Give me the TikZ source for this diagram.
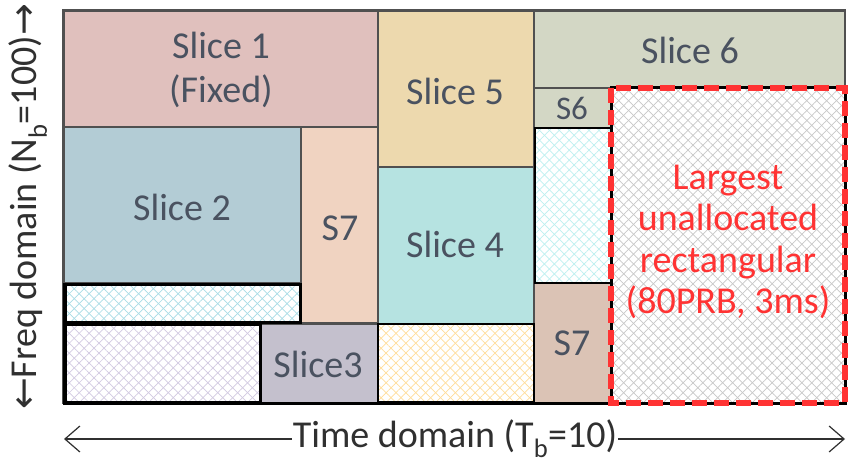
\documentclass[tikz,border=0pt]{standalone}
\usepackage{fontspec}
\setmainfont{Carlito}
\newfontfamily\arrowfont{DejaVu Sans}
\usetikzlibrary{patterns.meta,arrows.meta}
\definecolor{cS1}{HTML}{E0C0BD}
\definecolor{cS2}{HTML}{B3CCD5}
\definecolor{cS7a}{HTML}{F0D3C1}
\definecolor{cS5}{HTML}{EDD9AE}
\definecolor{cS4}{HTML}{B6E3E1}
\definecolor{cS6}{HTML}{D3D7C5}
\definecolor{cS3}{HTML}{C4C0CD}
\definecolor{cS7b}{HTML}{DBC3B5}
\definecolor{hCyan}{HTML}{A8DCE6}
\definecolor{hCyan2}{HTML}{BDF0F0}
\definecolor{hLav}{HTML}{D2CAE2}
\definecolor{hYel}{HTML}{FFDD9A}
\definecolor{hGray}{HTML}{C8C8C8}
\definecolor{edge}{HTML}{505050}
\definecolor{lbl}{HTML}{4A5260}
\definecolor{redlbl}{HTML}{FF3333}
\definecolor{axis}{HTML}{303030}
\begin{document}
\begin{tikzpicture}[x=1pt,y=-1pt,
  slicebox/.style={fill=#1, draw=edge, line width=1.5pt},
  emptyedge/.style={draw=black, line width=3pt},
  hatchA/.style={pattern={Lines[angle=45,distance=7pt,line width=0.7pt]}, pattern color=#1},
  hatchB/.style={pattern={Lines[angle=-45,distance=7pt,line width=0.7pt]}, pattern color=#1},
  lab/.style={text=lbl, font=\fontsize{38}{44}\selectfont, inner sep=0pt, align=center},
  smalllab/.style={text=lbl, font=\fontsize{33}{38}\selectfont, inner sep=0pt},
  axlab/.style={text=axis, font=\fontsize{38}{44}\selectfont, inner xsep=1pt, inner ysep=0pt},
  axarrow/.style={draw=axis, line width=1.2pt, -{Straight Barb[length=15pt,width=26pt,line width=1.2pt]}}
]
\useasboundingbox (0,0) rectangle (848,462);
\fill[white] (0,0) rectangle (848,462);

% coloured slices
\draw[slicebox=cS1]  (64,11) rectangle (378,127);
\draw[slicebox=cS5]  (378,11) rectangle (534,167);
\draw[slicebox=cS6]  (534,11) rectangle (845,88);
\draw[slicebox=cS6]  (534,88) rectangle (611,128);
\draw[slicebox=cS2]  (64,127) rectangle (301,283);
\draw[slicebox=cS7a] (301,127) rectangle (378,323);
\draw[slicebox=cS4]  (378,167) rectangle (534,324);
\draw[slicebox=cS3]  (260,324) rectangle (378,403);
\draw[slicebox=cS7b] (534,283) rectangle (611,403);

% unallocated hatched blocks
\foreach \c/\a/\b in {hCyan/{(65,284)}/{(300,322)}, hLav/{(65,324)}/{(260,402)}, hYel/{(378,324)}/{(534,402)}, hCyan2/{(535,128)}/{(611,283)}, hGray/{(611,88)}/{(845,403)}}{
  \fill[white] \a rectangle \b;
  \fill[hatchA=\c] \a rectangle \b;
  \fill[hatchB=\c] \a rectangle \b;
}
\draw[emptyedge] (65,284) rectangle (300,322);
\draw[emptyedge] (65,324) rectangle (260,402);
\draw[draw=black, line width=2pt] (378,324) rectangle (534,402);
\draw[draw=black, line width=2.5pt] (535,128) rectangle (611,283);

% outer frame
\draw[edge, line width=2pt] (63,10) rectangle (845,403);
\draw[black, line width=3pt] (64,283) -- (64,403) -- (611,403);

% largest unallocated rectangle
\draw[black, line width=3pt] (611,88) rectangle (845,403);
\draw[redlbl, line width=6pt, dash pattern=on 15pt off 7pt] (611,88) rectangle (845,403);

% labels
\node[lab] (l1) at (221,70) {Slice 1\\(Fixed)};
\node[lab] (l5) at (455,91) {Slice 5};
\node[lab] (l6) at (690,50) {Slice 6};
\node[smalllab] (l6b) at (572,108) {S6};
\node[lab] (l2) at (182,207) {Slice 2};
\node[lab] (l7a) at (340,228) {S7};
\node[lab] (l4) at (455,244) {Slice 4};
\node[lab] (l3) at (318,364) {Slice3};
\node[lab] (l7b) at (572,343) {S7};
\node[lab, text=redlbl, font=\fontsize{38}{41.5}\selectfont] (big) at (728,242) {Largest\\unallocated\\rectangular\\(80PRB, 3ms)};

% axes
\node[axlab] (td) at (455,439) {Time domain (T\textsubscript{b}=10)};
\coordinate (tl) at (64,439);
\coordinate (tr) at (845,439);
\draw[axarrow] (td.west) -- (tl);
\draw[axarrow] (td.east) -- (tr);
\node[axlab, rotate=90] (fd) at (28,207) {{\arrowfont ←}Freq domain (N\textsubscript{b}=100){\arrowfont →}};
\end{tikzpicture}
\end{document}
